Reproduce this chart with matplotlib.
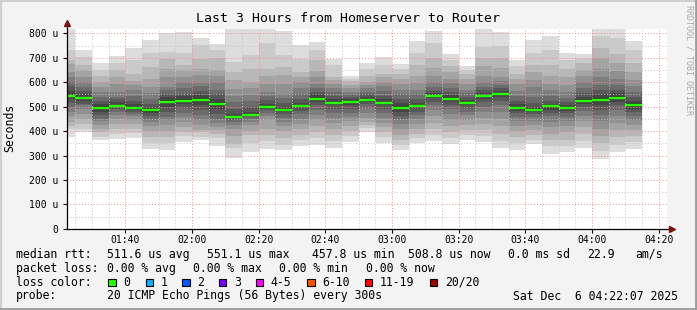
import numpy as np
import matplotlib
matplotlib.use("Agg")
import matplotlib.pyplot as plt
from matplotlib.patches import Rectangle
from matplotlib.lines import Line2D

# ===============================
# Data (microseconds), 20 sorted pings per 5 min slot
# ===============================
slot_start = np.arange(80, 255, 5)   # minutes after midnight, 01:20 ... 04:10

pings = [
    [376, 410, 420, 437, 460, 478, 500, 515, 530, 538, 552, 565, 585, 600, 620, 642, 676, 690, 731, 840],
    [396, 410, 430, 451, 470, 490, 505, 512, 525, 532, 538, 550, 565, 580, 601, 621, 650, 669, 703, 732],
    [362, 376, 396, 410, 424, 440, 451, 465, 478, 490, 502, 512, 525, 540, 560, 580, 601, 626, 650, 680],
    [369, 390, 410, 430, 450, 465, 478, 490, 498, 502, 506, 518, 530, 540, 560, 594, 621, 649, 680, 706],
    [373, 392, 410, 428, 444, 460, 470, 478, 486, 492, 498, 510, 525, 545, 567, 590, 604, 635, 692, 741],
    [328, 350, 376, 400, 420, 436, 451, 462, 472, 480, 487, 497, 510, 533, 555, 581, 615, 662, 720, 773],
    [323, 350, 376, 400, 424, 445, 458, 480, 500, 514, 526, 540, 553, 567, 580, 621, 655, 696, 724, 800],
    [356, 380, 396, 415, 437, 458, 475, 495, 510, 520, 530, 545, 553, 575, 600, 621, 650, 669, 721, 806],
    [364, 376, 395, 403, 425, 444, 465, 485, 505, 522, 536, 548, 565, 585, 601, 630, 655, 694, 754, 782],
    [339, 370, 390, 405, 417, 435, 451, 470, 490, 505, 519, 533, 550, 570, 601, 625, 649, 699, 730, 756],
    [291, 330, 349, 380, 410, 425, 437, 445, 452, 456, 461, 470, 490, 519, 545, 574, 610, 642, 683, 840],
    [315, 350, 383, 400, 424, 438, 448, 456, 462, 465, 469, 480, 500, 525, 547, 575, 601, 655, 710, 850],
    [328, 360, 383, 410, 444, 460, 475, 485, 492, 497, 502, 512, 526, 545, 560, 594, 625, 655, 760, 840],
    [323, 342, 370, 400, 420, 437, 455, 468, 478, 485, 491, 500, 515, 535, 553, 594, 630, 662, 710, 810],
    [339, 362, 385, 410, 430, 450, 468, 482, 493, 500, 506, 515, 530, 550, 575, 601, 620, 642, 696, 751],
    [342, 370, 396, 420, 445, 465, 485, 505, 520, 528, 538, 550, 560, 575, 594, 620, 645, 690, 730, 765],
    [332, 360, 385, 410, 432, 455, 475, 492, 505, 512, 520, 530, 545, 560, 578, 594, 610, 621, 669, 695],
    [356, 380, 400, 420, 440, 458, 475, 490, 505, 515, 522, 530, 540, 550, 560, 575, 590, 605, 615, 625],
    [398, 412, 425, 437, 455, 475, 495, 510, 520, 526, 532, 540, 550, 560, 575, 590, 601, 625, 655, 680],
    [353, 375, 396, 415, 435, 455, 475, 492, 505, 512, 520, 530, 545, 565, 585, 601, 620, 635, 670, 703],
    [323, 345, 362, 385, 410, 430, 448, 462, 478, 490, 502, 515, 530, 550, 570, 594, 615, 635, 655, 675],
    [353, 370, 390, 410, 430, 448, 465, 480, 493, 500, 506, 515, 530, 550, 570, 595, 625, 670, 720, 769],
    [360, 385, 410, 435, 460, 485, 505, 520, 535, 542, 548, 556, 565, 580, 600, 625, 660, 700, 760, 808],
    [347, 370, 395, 420, 445, 470, 490, 508, 520, 528, 538, 548, 560, 575, 595, 615, 640, 665, 690, 714],
    [364, 385, 405, 425, 445, 465, 480, 495, 505, 512, 519, 528, 540, 555, 570, 594, 615, 635, 650, 667],
    [356, 380, 405, 430, 455, 480, 500, 518, 530, 540, 548, 556, 568, 582, 600, 625, 665, 700, 744, 840],
    [331, 360, 390, 420, 450, 480, 505, 525, 540, 548, 556, 565, 575, 588, 605, 621, 660, 700, 750, 804],
    [323, 350, 375, 400, 420, 440, 458, 472, 484, 492, 500, 510, 525, 545, 565, 594, 615, 635, 665, 691],
    [346, 365, 385, 405, 425, 442, 458, 470, 478, 484, 490, 500, 515, 540, 580, 610, 640, 669, 720, 773],
    [308, 340, 365, 390, 415, 438, 460, 475, 488, 495, 504, 512, 525, 545, 570, 594, 625, 670, 730, 790],
    [315, 340, 365, 395, 420, 440, 458, 472, 482, 489, 496, 505, 518, 535, 560, 590, 620, 655, 690, 720],
    [331, 360, 390, 415, 440, 462, 482, 500, 512, 520, 530, 540, 555, 575, 600, 625, 650, 680, 700, 716],
    [286, 320, 350, 380, 410, 440, 465, 488, 508, 522, 536, 550, 567, 590, 620, 655, 700, 740, 790, 840],
    [315, 345, 375, 405, 435, 460, 485, 505, 520, 530, 542, 555, 570, 590, 615, 645, 680, 717, 780, 840],
    [327, 355, 380, 405, 425, 445, 462, 478, 492, 503, 514, 525, 540, 560, 585, 610, 640, 680, 730, 768],
]

median_us = [544, 535, 496, 503, 495, 485, 520, 525, 529, 512, 459, 467, 500, 488, 503, 533, 516,
             519, 529, 516, 496, 503, 545, 533, 515, 545, 551, 496, 487, 501, 493, 525, 529, 537, 508]

x_ticks = [100, 120, 140, 160, 180, 200, 220, 240, 260]
x_labels = ["01:40", "02:00", "02:20", "02:40", "03:00", "03:20", "03:40", "04:00", "04:20"]
y_ticks = [0, 100, 200, 300, 400, 500, 600, 700, 800]
y_labels = ["0", "100 u", "200 u", "300 u", "400 u", "500 u", "600 u", "700 u", "800 u"]

loss_labels = ["0", "1", "2", "3", "4-5", "6-10", "11-19", "20/20"]
loss_colors = ["#26ff00", "#00b8ff", "#0059ff", "#7e00ff", "#ff00ff", "#ff5500", "#ff0000", "#a10000"]

# ===============================
# Figure
# ===============================
W, H = 697, 310
BG = "#f3f3f3"
MONO = "DejaVu Sans Mono"

fig = plt.figure(figsize=(W / 100, H / 100), dpi=100, facecolor=BG)
ax = fig.add_axes([67 / W, (H - 228.9) / H, 600 / W, 200 / H])
ax.set_facecolor("white")

P = np.array(pings)
# smoke: pairs (i, 19-i), outer lightest
for i in range(10):
    g = int(190 / 10 * (10 - (i + 1))) + 50
    col = "#{0:02x}{0:02x}{0:02x}".format(g)
    ax.bar(slot_start, P[:, 19 - i] - P[:, i], bottom=P[:, i], width=5, align="edge",
           color=col, linewidth=0, antialiased=False, zorder=1)

ax.hlines(median_us, slot_start, slot_start + 5, colors="#26ff00", lw=1.7, zorder=3)

ax.set_xlim(82.5, 262.5)
ax.set_ylim(0, 818)

# grid
ax.set_xticks(x_ticks)
ax.set_xticklabels(x_labels)
ax.set_xticks(np.arange(85, 262, 5), minor=True)
ax.set_yticks(y_ticks)
ax.set_yticklabels(y_labels)
ax.set_yticks(np.arange(50, 818, 50), minor=True)
ax.set_axisbelow(False)
ax.grid(which="minor", color="#c4c4c4", ls=(0, (1, 2)), lw=0.7, zorder=2)
ax.grid(which="major", color="#f09090", ls=(0, (1, 2)), lw=0.7, zorder=2)

ax.tick_params(which="major", length=3, width=0.8, color="black",
               labelsize=7, labelfontfamily=MONO)
ax.tick_params(axis="x", which="major", pad=1.2)
ax.tick_params(axis="y", which="major", pad=3.5)
ax.tick_params(which="minor", length=0)
for lab in ax.get_xticklabels() + ax.get_yticklabels():
    lab.set_fontfamily(MONO)

for s in ["top", "right", "left", "bottom"]:
    ax.spines[s].set_visible(False)

# axis lines with arrows
ax.add_line(Line2D([0, 0], [0, 1.03], transform=ax.transAxes, color="black", lw=0.9, clip_on=False, zorder=4))
ax.add_line(Line2D([0, 1.005], [0, 0], transform=ax.transAxes, color="black", lw=0.9, clip_on=False, zorder=4))
ax.plot([0], [1.03], marker="^", color="#7a1010", ms=4, transform=ax.transAxes, clip_on=False, zorder=5)
ax.plot([1.008], [0], marker=">", color="#7a1010", ms=4, transform=ax.transAxes, clip_on=False, zorder=5)

# ===============================
# Texts
# ===============================
def ft(x, y, s, **kw):
    kw.setdefault("fontsize", 8.3)
    kw.setdefault("family", MONO)
    kw.setdefault("va", "center")
    fig.text(x / W, 1 - y / H, s, **kw)

ft(348, 19, "Last 3 Hours from Homeserver to Router", fontsize=9.5, ha="center")
ft(10, 128, "Seconds", rotation=90, ha="center")
ft(688.5, 60, "RRDTOOL / TOBI OETIKER", fontsize=6, rotation=270, ha="center", color="#a8a8a8")

ft(16, 254.3, "median rtt:")
ft(107.3, 254.3, "511.6 us avg")
ft(207.3, 254.3, "551.1 us max")
ft(312.3, 254.3, "457.8 us min")
ft(407.7, 254.3, "508.8 us now")
ft(507.7, 254.3, "0.0 ms sd")
ft(586.7, 254.3, "22.9")
ft(635.7, 254.3, "am/s")

ft(16, 268.3, "packet loss:")
ft(107.3, 268.3, "0.00 % avg")
ft(193.3, 268.3, "0.00 % max")
ft(279.3, 268.3, "0.00 % min")
ft(365.7, 268.3, "0.00 % now")

ft(16, 282.3, "loss color:")
box_x = [108.3, 145.7, 182.3, 219.0, 255.7, 307.3, 365.0, 430.0]
for bx, lab, c in zip(box_x, loss_labels, loss_colors):
    fig.add_artist(Rectangle((bx / W, 1 - 286.3 / H), 7.4 / W, 7.4 / H, transform=fig.transFigure,
                             facecolor=c, edgecolor="black", lw=0.8))
    ft(bx + 15, 282.3, lab)

ft(16, 296, "probe:")
ft(107.3, 296, "20 ICMP Echo Pings (56 Bytes) every 300s")
ft(513.3, 296, "Sat Dec  6 04:22:07 2025")

# frame
fig.add_artist(Line2D([0, W], [H - 1, H - 1], transform=None, color="#cfcfcf", lw=1.5))
fig.add_artist(Line2D([1, 1], [0, H], transform=None, color="#cfcfcf", lw=1.5))
fig.add_artist(Line2D([0, W], [1, 1], transform=None, color="#9c9c9c", lw=2))
fig.add_artist(Line2D([W - 1.5, W - 1.5], [0, H], transform=None, color="#9c9c9c", lw=2))

fig.savefig("out.png", dpi=100, facecolor=BG)
